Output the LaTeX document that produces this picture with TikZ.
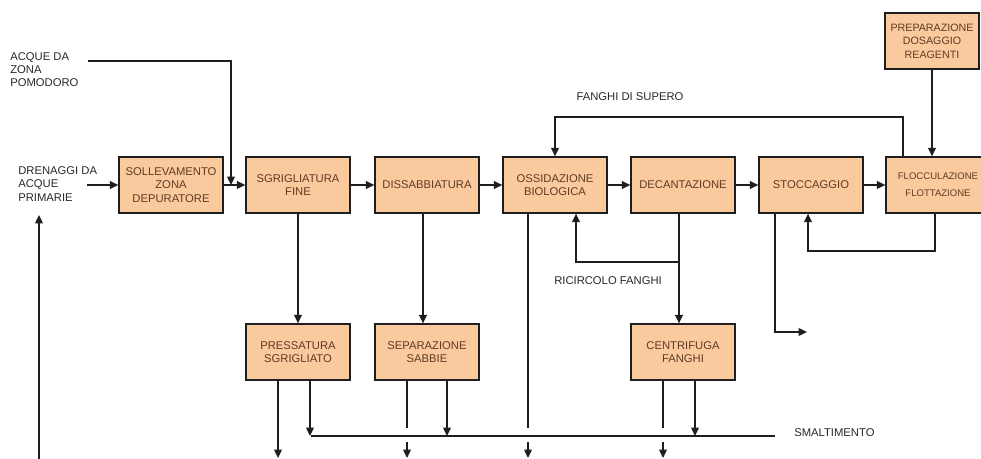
\documentclass[tikz,border=0pt]{standalone}
\usepackage{fontspec}
\setmainfont{Liberation Sans}
\usetikzlibrary{arrows.meta,calc}
\definecolor{boxfill}{RGB}{250,201,157}
\definecolor{boxtext}{RGB}{95,60,35}
\definecolor{linegray}{RGB}{30,30,30}
\definecolor{labelgray}{RGB}{40,40,40}
\tikzset{
  stage/.style={draw=linegray, line width=0.9pt, fill=boxfill, text=boxtext,
    minimum width=2.6cm, minimum height=1.4cm, align=center, inner sep=1pt,
    font=\fontsize{8}{9.5}\selectfont},
  lbl/.style={text=labelgray, align=left, inner sep=0pt, font=\fontsize{8}{9.5}\selectfont},
  pipe/.style={draw=linegray, line width=1pt},
  flow/.style={pipe, -{Triangle[length=6pt,width=5.5pt]}}
}
\begin{document}
\begin{tikzpicture}[x=0.025cm, y=-0.025cm]
\useasboundingbox (0,0) rectangle (981,459);
\clip (0,0) rectangle (981,459);% flocculazione runs off the page
% stages
\node[stage] (soll)   at (171,185) {SOLLEVAMENTO\\ZONA\\DEPURATORE};
\node[stage] (sgrig)  at (298,185) {SGRIGLIATURA\\FINE};
\node[stage] (dissab) at (427,185) {DISSABBIATURA};
\node[stage] (ossid)  at (555,185) {OSSIDAZIONE\\BIOLOGICA};
\node[stage] (decant) at (683,185) {DECANTAZIONE};
\node[stage] (stocc)  at (811,185) {STOCCAGGIO};
\node[stage, font=\fontsize{6.8}{12}\selectfont] (flocc) at (938,185) {FLOCCULAZIONE\\FLOTTAZIONE};
\node[stage, minimum width=2.35cm, font=\fontsize{7.6}{9.6}\selectfont] (prep) at (932,41) {PREPARAZIONE\\DOSAGGIO\\REAGENTI};
\node[stage] (press)  at (298,352) {PRESSATURA\\SGRIGLIATO};
\node[stage] (separ)  at (427,352) {SEPARAZIONE\\SABBIE};
\node[stage] (centr)  at (683,352) {CENTRIFUGA\\FANGHI};
% labels
\node[lbl, anchor=north west] (pom) at (10,52) {ACQUE DA\\ZONA\\POMODORO};
\node[lbl, anchor=west] (dren) at (18,184) {DRENAGGI DA\\ACQUE\\PRIMARIE};
\node[lbl] (supero) at (630,97) {FANGHI DI SUPERO};
\node[lbl] (ricirc) at (608,281) {RICIRCOLO FANGHI};
\node[lbl, anchor=west] (smalt) at (794,433) {SMALTIMENTO};
% helper points
\coordinate (drenE) at (87,185);
\coordinate (pomS) at (88,61);
\coordinate (pomE) at (231,185);
\coordinate (sup) at (555,117);
\coordinate (ret) at (808,251);
\coordinate (ric) at (679,262);
\coordinate (out) at (807,332);
\coordinate (smL) at (311,436);
\coordinate (smR) at (775,436);
\coordinate (gapT) at (0,428);
\coordinate (gapB) at (0,442);
\coordinate (bot) at (0,458);
\coordinate (fbB) at (39,459);
\coordinate (fbT) at (39,215);
% main line
\draw[flow] (drenE) -- (soll);
\draw[flow] (pomS) -| (pomE);
\draw[flow] (soll) -- (sgrig);
\draw[flow] (sgrig) -- (dissab);
\draw[flow] (dissab) -- (ossid);
\draw[flow] (ossid) -- (decant);
\draw[flow] (decant) -- (stocc);
\draw[flow] (stocc) -- (flocc);
\draw[flow] (prep.south) -- (prep.south |- flocc.north);
% recycles
\draw[flow] ($(flocc.north)+(-35,0)$) |- (sup) -- (ossid.north);
\draw[flow] ($(flocc.south)+(-3,0)$) |- (ret) -- (ret |- stocc.south);
\draw[flow] ($(decant.south)+(-4,0)$) -- ($(centr.north)+(-4,0)$);
\draw[flow] (ric) -| ($(ossid.south)+(21,0)$);
\draw[flow] ($(stocc.south)+(-36,0)$) |- (out);
\draw[flow] (fbB) -- (fbT);
% sludge and residues
\draw[flow] (sgrig) -- (press);
\draw[flow] ($(dissab.south)+(-4,0)$) -- ($(separ.north)+(-4,0)$);
\draw[pipe] (smL) -- (smR);
\draw[flow] ($(press.south)+(-20,0)$) coordinate (leg) -- (leg |- bot);
\foreach \n/\dx in {ossid/-27, separ/-20, centr/-20}{
  \draw[pipe] ($(\n.south)+(\dx,0)$) coordinate (leg) -- (leg |- gapT);
  \draw[flow] (leg |- gapB) -- (leg |- bot);
}
\foreach \n/\dx in {press/12, separ/20, centr/12}
  \draw[flow] ($(\n.south)+(\dx,0)$) coordinate (leg) -- (leg |- smL);
\end{tikzpicture}
\end{document}
